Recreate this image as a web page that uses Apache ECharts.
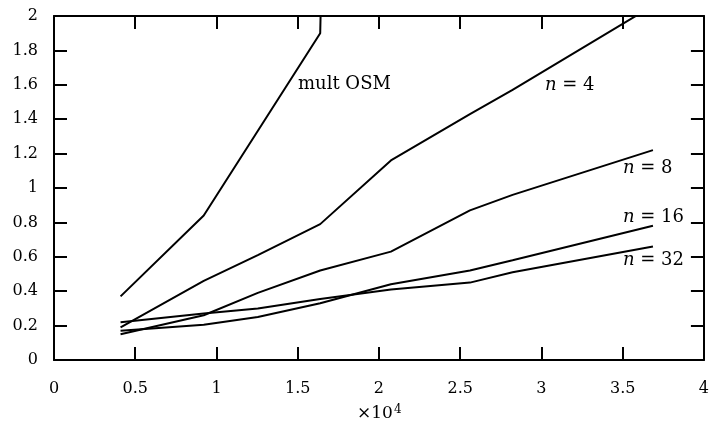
<!DOCTYPE html>
<html lang="en">
<head>
    <meta charset="UTF-8">
    <title>mult OSM</title>
    <script type="text/javascript" src="https://cdn.jsdelivr.net/npm/echarts@6/dist/echarts.min.js"></script>
</head>
<body style="margin:0">
<div id="chart" style="width:712px; height:428px;"></div>
<script>
    // problem sizes, in units of 10^4
    var sizes = [0.4096, 0.9216, 1.2544, 1.6384, 2.0736, 2.56, 2.8224, 3.6864];
    var osmSizes = [0.4096, 0.9216, 1.6384, 1.65];
    var osmTime = [0.37, 0.84, 1.90, 2.40];
    var n4 = [0.19, 0.46, 0.61, 0.79, 1.16, 1.43, 1.57, 2.06];
    var n8 = [0.15, 0.26, 0.39, 0.52, 0.63, 0.87, 0.96, 1.22];
    var n16 = [0.17, 0.205, 0.25, 0.33, 0.44, 0.52, 0.58, 0.78];
    var n32 = [0.22, 0.27, 0.30, 0.355, 0.41, 0.45, 0.51, 0.66];
    var xTicks = [0, 0.5, 1, 1.5, 2, 2.5, 3, 3.5, 4];
    var yTicks = [0, 0.2, 0.4, 0.6, 0.8, 1, 1.2, 1.4, 1.6, 1.8, 2];

    var font = '"DejaVu Serif", "Liberation Serif", serif';

    function pairs(xs, ys) {
        var out = [];
        for (var i = 0; i < xs.length; i++) {
            out.push([xs[i], ys[i]]);
        }
        return out;
    }

    function line(name, xs, ys) {
        return {
            name: name,
            type: 'line',
            data: pairs(xs, ys),
            showSymbol: false,
            clip: true,
            lineStyle: {color: '#000', width: 2},
            silent: true
        };
    }

    var axisBase = {
        type: 'value',
        axisLine: {show: true, onZero: false, lineStyle: {color: '#000', width: 2}},
        axisTick: {show: true, inside: true, length: 13, lineStyle: {color: '#000', width: 2}},
        splitLine: {show: false}
    };

    var labelStyle = {color: '#000', fontFamily: font, fontSize: 16};

    function curveLabel(text, x, y) {
        return {type: 'text', left: x, top: y, style: {text: text, font: '18px ' + font, fill: '#000',
            rich: {i: {fontStyle: 'italic', fontSize: 18, fontFamily: font}}}};
    }

    var chart = echarts.init(document.getElementById('chart'));
    var option = {
        animation: false,
        backgroundColor: '#fff',
        grid: {left: 54, right: 3, top: 16, bottom: 68},
        xAxis: [
            Object.assign({}, axisBase, {
                position: 'bottom', min: xTicks[0], max: xTicks[xTicks.length - 1], interval: 0.5,
                axisLabel: Object.assign({margin: 21}, labelStyle)
            }),
            Object.assign({}, axisBase, {
                position: 'top', min: xTicks[0], max: xTicks[xTicks.length - 1], interval: 0.5,
                axisLabel: {show: false}
            })
        ],
        yAxis: [
            Object.assign({}, axisBase, {
                position: 'left', min: yTicks[0], max: yTicks[yTicks.length - 1], interval: 0.2,
                axisLabel: Object.assign({margin: 16}, labelStyle)
            }),
            Object.assign({}, axisBase, {
                position: 'right', min: yTicks[0], max: yTicks[yTicks.length - 1], interval: 0.2,
                axisLabel: {show: false}
            })
        ],
        series: [
            line('mult OSM', osmSizes, osmTime),
            line('n = 4', sizes, n4),
            line('n = 8', sizes, n8),
            line('n = 16', sizes, n16),
            line('n = 32', sizes, n32)
        ],
        graphic: [
            {type: 'text', left: 298, top: 75, style: {text: 'mult OSM', font: '18px ' + font, fill: '#000'}},
            curveLabel('{i|n} = 4', 545, 76),
            curveLabel('{i|n} = 8', 623, 159),
            curveLabel('{i|n} = 16', 623, 208),
            curveLabel('{i|n} = 32', 623, 251),
            {type: 'text', left: 357, top: 404, style: {text: '×10{s|4}', font: '17px ' + font, fill: '#000',
                rich: {s: {fontSize: 12, fontFamily: font, verticalAlign: 'top', padding: [0, 0, 8, 1]}}}}
        ]
    };
    chart.setOption(option);
</script>
</body>
</html>
